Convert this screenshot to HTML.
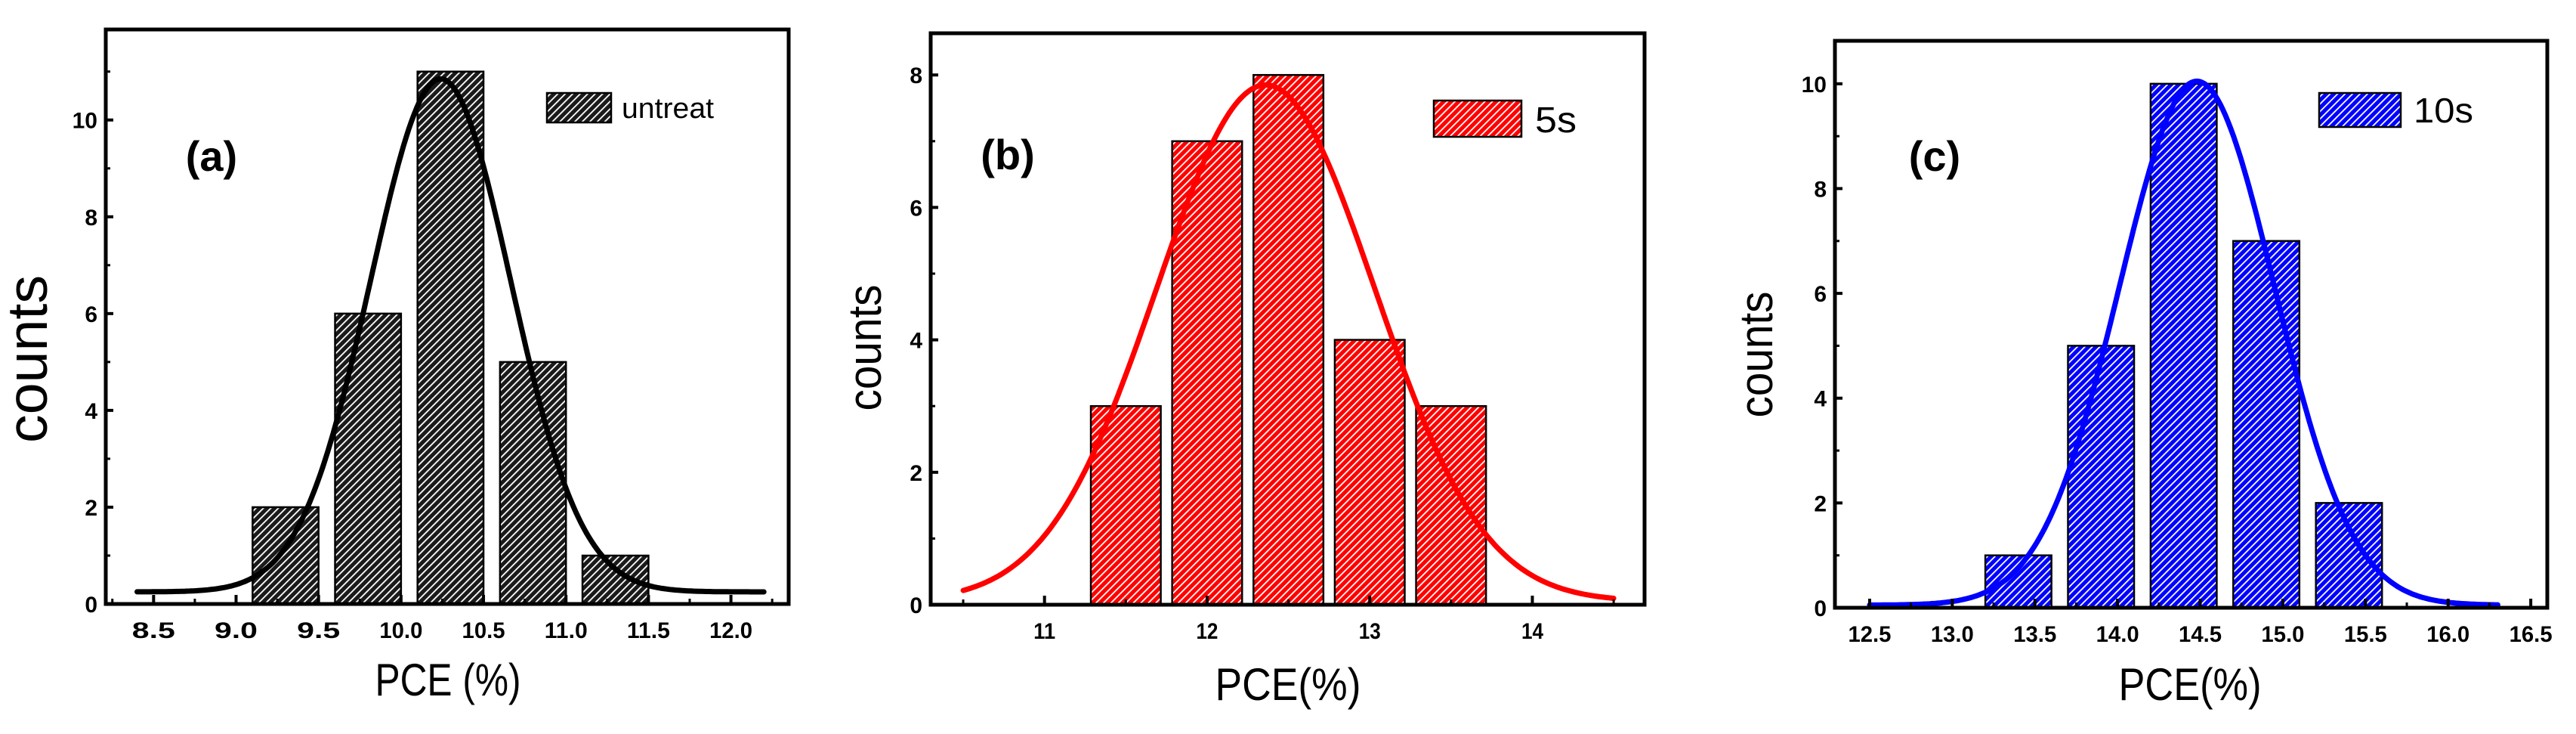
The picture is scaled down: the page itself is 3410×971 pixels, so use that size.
<!DOCTYPE html>
<html><head><meta charset="utf-8"><style>
html,body{margin:0;padding:0;background:#fff;}
svg{display:block;}
text{font-family:"Liberation Sans",sans-serif;}
</style></head><body>
<svg id="fig" width="3410" height="971" viewBox="0 0 3410 971" xmlns="http://www.w3.org/2000/svg">
<defs>
<pattern id="hatch-black" patternUnits="userSpaceOnUse" width="7" height="7" patternTransform="rotate(45)"><rect width="7" height="7" fill="#1a1a1a"/><rect x="0" y="0" width="1.8" height="7" fill="#fff"/></pattern>
<pattern id="hatch-red" patternUnits="userSpaceOnUse" width="7" height="7" patternTransform="rotate(45)"><rect width="7" height="7" fill="#f00"/><rect x="0" y="0" width="1.8" height="7" fill="#fff"/></pattern>
<pattern id="hatch-blue" patternUnits="userSpaceOnUse" width="7" height="7" patternTransform="rotate(45)"><rect width="7" height="7" fill="#00f"/><rect x="0" y="0" width="1.8" height="7" fill="#fff"/></pattern>
</defs>
</svg>
<script>
// Panel (a) data
const catsA = [9.3, 9.8, 10.3, 10.8, 11.3];
const countsA = [2, 6, 11, 5, 1];
const xTicksA = ["8.5","9.0","9.5","10.0","10.5","11.0","11.5","12.0"];
const yTicksA = [0, 2, 4, 6, 8, 10];
const fitA = [10.24, 10.6, 0.425, 0.25]; // center, amplitude, width, baseline
// Panel (b) data
const catsB = [11.5, 12.0, 12.5, 13.0, 13.5];
const countsB = [3, 7, 8, 4, 3];
const xTicksB = ["11","12","13","14"];
const yTicksB = [0, 2, 4, 6, 8];
const fitB = [12.36, 7.8, 0.67, 0.05];
// Panel (c) data
const catsC = [13.4, 13.9, 14.4, 14.9, 15.4];
const countsC = [1, 5, 10, 7, 2];
const xTicksC = ["12.5","13.0","13.5","14.0","14.5","15.0","15.5","16.0","16.5"];
const yTicksC = [0, 2, 4, 6, 8, 10];
const fitC = [14.48, 10.0, 0.47, 0.05];

const NS = "http://www.w3.org/2000/svg";
const svg = document.getElementById("fig");
function mk(tag, attrs, parent) {
  const e = document.createElementNS(NS, tag);
  for (const k in attrs) e.setAttribute(k, attrs[k]);
  (parent || svg).appendChild(e);
  return e;
}

function panel(cfg) {
  const g = mk("g", {});
  
  
  const X = v => cfg.L + (v - cfg.xmin) / (cfg.xmax - cfg.xmin) * (cfg.R - cfg.L);
  const Y = v => cfg.B - (v - 0) / (cfg.ymax - 0) * (cfg.B - cfg.T);

  cfg.cats.forEach((c, i) => {
    const r = mk("rect", {x: X(c - cfg.bw / 2), y: Y(cfg.vals[i]), width: X(c + cfg.bw / 2) - X(c - cfg.bw / 2), height: Y(0) - Y(cfg.vals[i]), fill: "url(#" + cfg.pat + ")", stroke: "#000", "stroke-width": 2.5}, g);
    
    
  });

  const [xc, A, w, y0] = cfg.fit;
  let d = "";
  const n = 240;
  for (let i = 0; i <= n; i++) {
    const xv = cfg.c0 + (cfg.c1 - cfg.c0) * i / n;
    const yv = y0 + A * Math.exp(-((xv - xc) ** 2) / (2 * w * w));
    d += (i ? "L" : "M") + X(xv).toFixed(1) + " " + Y(yv).toFixed(1);
  }
  const curve = mk("path", {d: d, fill: "none", stroke: cfg.color, "stroke-width": 7, "stroke-linecap": "round", "stroke-linejoin": "round"}, g);
  
  

  const fr = mk("rect", {x: cfg.L, y: cfg.T, width: cfg.R - cfg.L, height: cfg.B - cfg.T, fill: "none", stroke: "#000", "stroke-width": 5}, g);
  
  

  cfg.xt.forEach((t, i) => {
    const v = parseFloat(t);
    mk("line", {x1: X(v), x2: X(v), y1: cfg.B, y2: cfg.B - 12, stroke: "#000", "stroke-width": 4}, g);
    const mv = v + cfg.xstep / 2;
    if (mv < cfg.xmax) mk("line", {x1: X(mv), x2: X(mv), y1: cfg.B, y2: cfg.B - 7, stroke: "#000", "stroke-width": 3}, g);
    if (i === 0 && v - cfg.xstep / 2 > cfg.xmin) mk("line", {x1: X(v - cfg.xstep / 2), x2: X(v - cfg.xstep / 2), y1: cfg.B, y2: cfg.B - 7, stroke: "#000", "stroke-width": 3}, g);
    const tx = mk("text", {x: X(v), y: cfg.B + 45, "text-anchor": "middle", "font-size": 30, "font-weight": "bold", textLength: t.length > 2 ? 57 : 29, lengthAdjust: "spacingAndGlyphs"}, g);
    tx.textContent = t;
    
    
  });
  cfg.yt.forEach(v => {
    mk("line", {x1: cfg.L, x2: cfg.L + 10, y1: Y(v), y2: Y(v), stroke: "#000", "stroke-width": 4}, g);
    if (Y(v + 1) > cfg.T) mk("line", {x1: cfg.L, x2: cfg.L + 6, y1: Y(v + 1), y2: Y(v + 1), stroke: "#000", "stroke-width": 3}, g);
    const tx = mk("text", {x: cfg.L - 11, y: Y(v) + 11, "text-anchor": "end", "font-size": 30, "font-weight": "bold"}, g);
    tx.textContent = v;
    
    
  });

  const xt = mk("text", {x: cfg.xtx, y: cfg.xty, "text-anchor": "middle", "font-size": 60, textLength: cfg.xtl, lengthAdjust: "spacingAndGlyphs"}, g);
  xt.textContent = cfg.xtitle;
  
  
  const yt = mk("text", {x: 0, y: 0, "text-anchor": "middle", "font-size": cfg.ytfs, textLength: cfg.ytl, lengthAdjust: "spacingAndGlyphs", transform: "translate(" + cfg.ytx + "," + cfg.yty + ") rotate(-90)"}, g);
  yt.textContent = "counts";
  
  

  const pl = mk("text", {x: cfg.plx, y: cfg.ply, "text-anchor": "middle", "font-size": 56, "font-weight": "bold"}, g);
  pl.textContent = cfg.label;
  
  

  const lb = mk("rect", {x: cfg.lg[0], y: cfg.lg[1], width: cfg.lg[2], height: cfg.lg[3], fill: "url(#" + cfg.pat + ")", stroke: "#000", "stroke-width": 2.5}, g);
  
  
  const lt = mk("text", {x: cfg.ltx, y: cfg.lg[1] + cfg.lg[3] - 6, "font-size": cfg.lfs, textLength: cfg.ltl, lengthAdjust: "spacingAndGlyphs"}, g);
  lt.textContent = cfg.legend;
  
  
}

panel({name: "panel-a", L: 140, R: 1044, T: 39, B: 799, xmin: 8.21, xmax: 12.35, ymax: 11.87, xstep: 0.5,
  cats: catsA, vals: countsA, bw: 0.4, xt: xTicksA, yt: yTicksA, fit: fitA, c0: 8.4, c1: 12.2,
  pat: "hatch-black", color: "#000", xtitle: "PCE (%)", xtx: 593, xty: 920, xtl: 193,
  ytx: 62, yty: 475, ytfs: 75, ytl: 222, label: "(a)", plx: 280, ply: 226,
  lg: [724, 123, 85, 39], ltx: 823, legend: "untreat", lfs: 38, ltl: 122});
panel({name: "panel-b", L: 1232, R: 2177, T: 44, B: 800, xmin: 10.30, xmax: 14.69, ymax: 8.63, xstep: 1,
  cats: catsB, vals: countsB, bw: 0.43, xt: xTicksB, yt: yTicksB, fit: fitB, c0: 10.5, c1: 14.5,
  pat: "hatch-red", color: "#f00", xtitle: "PCE(%)", xtx: 1705, xty: 926, xtl: 193,
  ytx: 1166, yty: 460, ytfs: 62, ytl: 167, label: "(b)", plx: 1334, ply: 224,
  lg: [1898, 133, 116, 48], ltx: 2032, legend: "5s", lfs: 48, ltl: 55});
panel({name: "panel-c", L: 2429, R: 3372, T: 54, B: 804, xmin: 12.29, xmax: 16.6, ymax: 10.82, xstep: 0.5,
  cats: catsC, vals: countsC, bw: 0.4, xt: xTicksC, yt: yTicksC, fit: fitC, c0: 12.5, c1: 16.3,
  pat: "hatch-blue", color: "#00f", xtitle: "PCE(%)", xtx: 2899, xty: 926, xtl: 189,
  ytx: 2346, yty: 469, ytfs: 62, ytl: 167, label: "(c)", plx: 2561, ply: 226,
  lg: [3070, 123, 108, 45], ltx: 3195, legend: "10s", lfs: 46, ltl: 79});
</script>
</body></html>
